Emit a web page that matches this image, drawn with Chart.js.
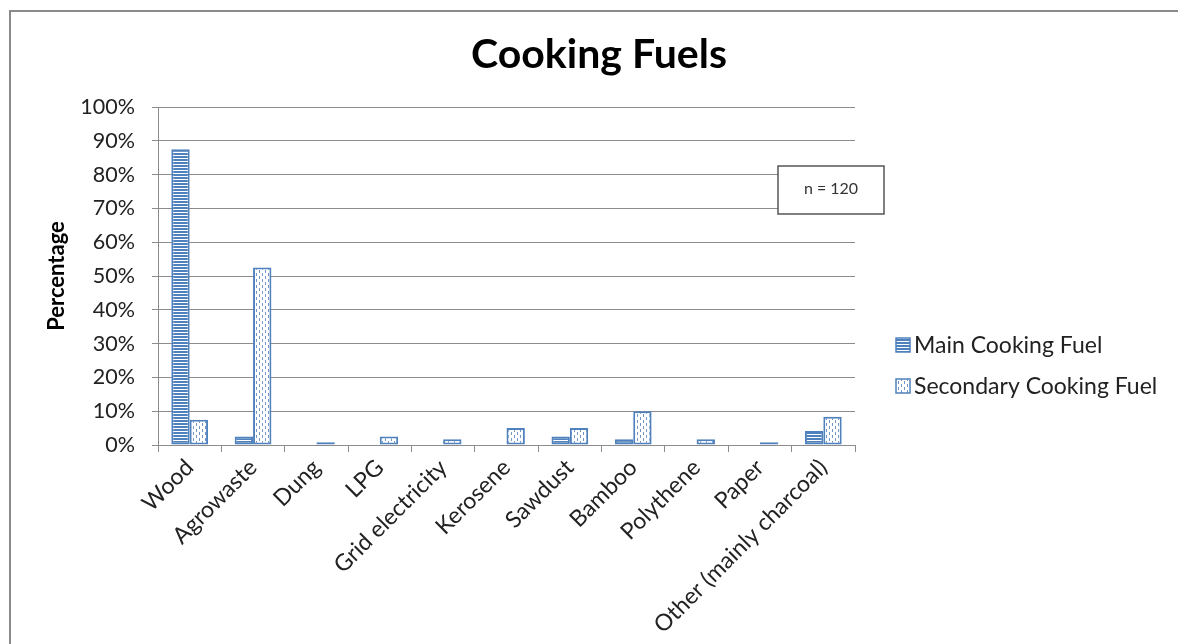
<!DOCTYPE html>
<html>
<head>
<meta charset="utf-8">
<script src="https://cdn.jsdelivr.net/npm/chart.js@4"></script>
<style>
html, body { margin: 0; padding: 0; background: #fff; }
</style>
</head>
<body>
<canvas id="canvasChart" width="1178" height="644"></canvas>
<script>
// data (n = 120 households)
var fuels = ["Wood", "Agrowaste", "Dung", "LPG", "Grid electricity", "Kerosene", "Sawdust", "Bamboo", "Polythene", "Paper", "Other (mainly charcoal)"];
var mainFuel = [87.5, 2.5, 0, 0, 0, 0, 2.5, 1.67, 0, 0, 4.17];
var secondaryFuel = [7.5, 52.5, 0.83, 2.5, 1.67, 5, 5, 10, 1.67, 0.83, 8.33];
var seriesNames = ["Main Cooking Fuel", "Secondary Cooking Fuel"];
var sampleNote = "n = 120";

var blue = "#4F81BD";
var fontName = "Lato, 'Open Sans', sans-serif";

// horizontal stripes for the main fuel
function stripePattern() {
    var c = document.createElement("canvas");
    c.width = 4; c.height = 3;
    var g = c.getContext("2d");
    g.fillStyle = blue;
    g.fillRect(0, 0, 4, 2);
    g.fillStyle = "#ffffff";
    g.fillRect(0, 2, 4, 1);
    return g.createPattern(c, "repeat");
}

// dashed vertical lines for the secondary fuel
function dashPattern() {
    var c = document.createElement("canvas");
    c.width = 6; c.height = 6;
    var g = c.getContext("2d");
    g.fillStyle = "#ffffff";
    g.fillRect(0, 0, 6, 6);
    g.fillStyle = "#7396C8";
    g.fillRect(1, 0, 1, 3);
    g.fillRect(4, 3, 1, 3);
    return g.createPattern(c, "repeat");
}

var mainFill = stripePattern();
var secondFill = dashPattern();

// frame, legend and the n box
var extras = {
    id: "extras",
    afterDraw: function(chart) {
        var ctx = chart.ctx;
        ctx.save();
        ctx.strokeStyle = "#8a8a8a";
        ctx.lineWidth = 2;
        ctx.beginPath();
        ctx.moveTo(10, 644);
        ctx.lineTo(10, 11);
        ctx.lineTo(1178, 11);
        ctx.stroke();

        // n box
        ctx.fillStyle = "#ffffff";
        ctx.fillRect(778, 166, 106, 48);
        ctx.strokeStyle = "#555555";
        ctx.lineWidth = 1.5;
        ctx.strokeRect(778, 166, 106, 48);
        ctx.fillStyle = "#333333";
        ctx.font = "16px " + fontName;
        ctx.textAlign = "center";
        ctx.textBaseline = "middle";
        ctx.fillText(sampleNote, 831, 189);

        // legend
        var fills = [mainFill, secondFill];
        var ys = [345, 386];
        ctx.font = "23px " + fontName;
        ctx.textAlign = "left";
        for (var i = 0; i < seriesNames.length; i++) {
            ctx.fillStyle = fills[i];
            ctx.fillRect(896, ys[i] - 7, 14, 14);
            ctx.strokeStyle = blue;
            ctx.lineWidth = 1.5;
            ctx.strokeRect(896, ys[i] - 7, 14, 14);
            ctx.fillStyle = "#222222";
            ctx.fillText(seriesNames[i], 914, ys[i] + 1);
        }
        ctx.restore();
    }
};

var ctx = document.getElementById("canvasChart");

var chart = new Chart(ctx, {
    type: "bar",
    data: {
        labels: fuels,
        datasets: [{
            label: seriesNames[0],
            data: mainFuel,
            backgroundColor: mainFill,
            borderColor: blue,
            borderWidth: 2,
            borderSkipped: false
        }, {
            label: seriesNames[1],
            data: secondaryFuel,
            backgroundColor: secondFill,
            borderColor: blue,
            borderWidth: 2,
            borderSkipped: false
        }]
    },
    options: {
        responsive: false,
        animation: false,
        categoryPercentage: 0.58,
        barPercentage: 1.0,
        layout: {
            padding: { left: 40, right: 20, top: 10, bottom: 0 }
        },
        plugins: {
            legend: { display: false },
            tooltip: { enabled: false },
            title: {
                display: true,
                text: "Cooking Fuels",
                color: "#000000",
                font: { family: fontName, size: 41, weight: "bold" },
                padding: { top: 20.4, bottom: 27.4 }
            }
        },
        scales: {
            x: {
                grid: { drawOnChartArea: false, color: "#8c8c8c", tickLength: 7 },
                border: { color: "#8c8c8c" },
                ticks: {
                    minRotation: 45,
                    maxRotation: 45,
                    autoSkip: false,
                    color: "#222222",
                    padding: 2,
                    font: { family: fontName, size: 23 }
                },
                afterFit: function(scale) { scale.height = 199; }
            },
            y: {
                min: 0,
                max: 100,
                grid: { color: "#8c8c8c", tickLength: 6 },
                border: { color: "#8c8c8c" },
                ticks: {
                    stepSize: 10,
                    color: "#222222",
                    padding: 17,
                    font: { family: fontName, size: 21.5 },
                    callback: function(v) { return v + "%"; }
                },
                title: {
                    display: true,
                    text: "Percentage",
                    color: "#000000",
                    font: { family: fontName, size: 22, weight: "bold" },
                    padding: { top: 4, bottom: 0 }
                },
                afterFit: function(scale) { scale.width = 118; }
            },
            spare: {
                type: "linear",
                position: "right",
                grid: { display: false },
                border: { display: false },
                ticks: { display: false },
                afterFit: function(scale) { scale.width = 303; }
            }
        }
    },
    plugins: [extras]
});
</script>
</body>
</html>
